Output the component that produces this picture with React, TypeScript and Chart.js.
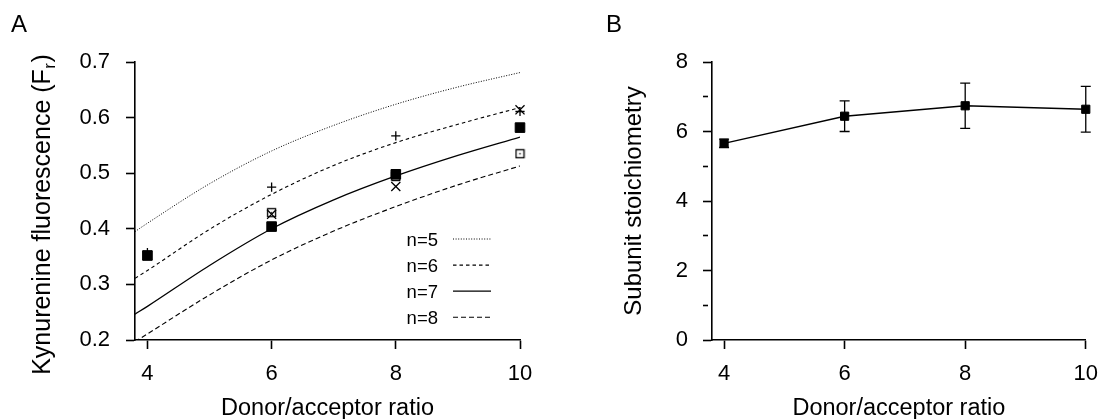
import React, { useEffect, useRef } from 'react';
import { Chart, registerables } from 'chart.js';

Chart.register(...registerables);

const FONT = '"Liberation Sans", Arial, Helvetica, sans-serif';

// ---------- Panel A data ----------
const xTickValues = [4, 6, 8, 10];
const yTicksA = [0.2, 0.3, 0.4, 0.5, 0.6, 0.7];
const ratiosA = [4, 6, 8, 10];
const plusSeries = [0.357, 0.475, 0.567, 0.611];
const crossSeries = [0.352, 0.426, 0.476, 0.614];
const filledSquareSeries = [0.352, 0.404, 0.498, 0.582];
const openSquareSeries = [0.352, 0.429, 0.494, 0.535];

const curveX = [3.8, 4, 5, 6, 7, 8, 9, 10];
const curveN5 = [0.395, 0.41, 0.481, 0.54, 0.586, 0.624, 0.655, 0.681];
const curveN6 = [0.311, 0.325, 0.399, 0.462, 0.514, 0.555, 0.588, 0.618];
const curveN7 = [0.2465, 0.2605, 0.334, 0.4, 0.452, 0.495, 0.532, 0.565];
const curveN8 = [0.197, 0.211, 0.281, 0.344, 0.396, 0.44, 0.479, 0.513];
const curveLabels = ['n=5', 'n=6', 'n=7', 'n=8'];

const xTitle = 'Donor/acceptor ratio';
const yTitleAMain = 'Kynurenine fluorescence (F';
const yTitleASub = 'r';
const yTitleAClose = ')';

// ---------- Panel B data ----------
const ratiosB = [4, 6, 8, 10];
const stoichValues = [5.66, 6.44, 6.74, 6.64];
const stoichErrors = [0.12, 0.44, 0.65, 0.66];
const yTicksB = [0, 1, 2, 3, 4, 5, 6, 7, 8];
const yTitleB = 'Subunit stoichiometry';

const panelLabels = ['A', 'B'];

const toPoints = (xs: number[], ys: number[]) => xs.map((x, i) => ({ x, y: ys[i] }));

function makeOpenSquare(): HTMLCanvasElement {
  const c = document.createElement('canvas');
  c.width = 11;
  c.height = 11;
  const g = c.getContext('2d')!;
  g.fillStyle = '#fff';
  g.fillRect(1, 1, 9, 9);
  g.strokeStyle = '#000';
  g.lineWidth = 1.3;
  g.strokeRect(1.5, 1.5, 8, 8);
  g.fillStyle = '#000';
  g.fillRect(4.8, 4.8, 1.4, 1.4);
  return c;
}

function xScaleOptions() {
  return {
    type: 'linear' as const,
    min: 3.8,
    max: 10,
    afterBuildTicks: (s: any) => {
      s.ticks = xTickValues.map((v) => ({ value: v }));
    },
    afterFit: (s: any) => {
      s.height = 79;
    },
    grid: { drawOnChartArea: false, tickLength: 9, tickColor: '#000', tickWidth: 1.6 },
    border: { color: '#000', width: 1.6 },
    ticks: {
      color: '#000',
      font: { family: FONT, size: 22 },
      padding: 12,
      maxRotation: 0,
      autoSkip: false,
    },
    title: {
      display: true,
      text: xTitle,
      color: '#000',
      font: { family: FONT, size: 23.5, lineHeight: 0.85 },
      padding: { top: 0, bottom: 0 },
    },
  };
}

export default function App() {
  const refA = useRef<HTMLCanvasElement>(null);
  const refB = useRef<HTMLCanvasElement>(null);

  useEffect(() => {
    const openSquare = makeOpenSquare();

    const curveStyles = [
      { dash: [1, 1.6], width: 1 },
      { dash: [3.5, 3], width: 1.1 },
      { dash: [], width: 1.3 },
      { dash: [5, 3], width: 1.1 },
    ];
    const curves = [curveN5, curveN6, curveN7, curveN8];

    const markerDatasets: any[] = [
      {
        label: 'filled squares',
        data: toPoints(ratiosA, filledSquareSeries),
        showLine: false,
        pointStyle: 'rect',
        pointRadius: 6.8,
        pointBackgroundColor: '#000',
        pointBorderColor: '#000',
        pointBorderWidth: 1,
        clip: false,
      },
      {
        label: 'crosses',
        data: toPoints(ratiosA, crossSeries),
        showLine: false,
        pointStyle: 'crossRot',
        pointRadius: 6.4,
        pointBorderColor: '#000',
        pointBorderWidth: 1.3,
        clip: false,
      },
      {
        label: 'plus',
        data: toPoints(ratiosA, plusSeries),
        showLine: false,
        pointStyle: 'cross',
        pointRadius: 4.6,
        pointBorderColor: '#000',
        pointBorderWidth: 1.3,
        clip: false,
      },
      {
        label: 'open squares',
        data: toPoints(ratiosA, openSquareSeries),
        showLine: false,
        pointStyle: openSquare,
        pointRadius: 5,
        clip: false,
      },
    ];

    const curveDatasets: any[] = curves.map((c, i) => ({
      label: curveLabels[i],
      isCurve: true,
      data: toPoints(curveX, c),
      borderColor: '#000',
      borderWidth: curveStyles[i].width,
      borderDash: curveStyles[i].dash,
      pointRadius: 0,
      cubicInterpolationMode: 'monotone',
      fill: false,
    }));

    const legendPlugin = {
      id: 'curveLegend',
      afterDatasetsDraw(chart: any) {
        const ctx = chart.ctx;
        const ds = chart.data.datasets.filter((d: any) => d.isCurve);
        ctx.save();
        ds.forEach((d: any, i: number) => {
          const y = 240.5 + i * 26.1;
          ctx.fillStyle = '#000';
          ctx.font = `18.5px ${FONT}`;
          ctx.textAlign = 'right';
          ctx.textBaseline = 'middle';
          ctx.fillText(d.label, 438, y);
          ctx.beginPath();
          ctx.setLineDash(d.borderDash || []);
          ctx.lineWidth = d.borderWidth;
          ctx.strokeStyle = '#000';
          ctx.moveTo(453, y - 1.5);
          ctx.lineTo(491, y - 1.5);
          ctx.stroke();
        });
        ctx.restore();
      },
    };

    const yTitlePlugin = {
      id: 'yTitleA',
      afterDraw(chart: any) {
        const ctx = chart.ctx;
        ctx.save();
        ctx.fillStyle = '#000';
        const big = `25px ${FONT}`;
        const small = `17px ${FONT}`;
        ctx.font = big;
        const w1 = ctx.measureText(yTitleAMain).width;
        const w3 = ctx.measureText(yTitleAClose).width;
        ctx.font = small;
        const w2 = ctx.measureText(yTitleASub).width;
        const total = w1 + w2 + w3;
        ctx.translate(50, 215);
        ctx.rotate(-Math.PI / 2);
        ctx.textAlign = 'left';
        ctx.textBaseline = 'alphabetic';
        const start = -total / 2;
        ctx.font = big;
        ctx.fillText(yTitleAMain, start, 0);
        ctx.font = small;
        ctx.fillText(yTitleASub, start + w1 + 0.5, 5);
        ctx.font = big;
        ctx.fillText(yTitleAClose, start + w1 + w2 + 1, 0);
        ctx.restore();
      },
    };

    const chartA = new Chart(refA.current!, {
      type: 'line',
      data: { datasets: [...markerDatasets, ...curveDatasets] },
      options: {
        responsive: false,
        animation: false,
        events: [],
        layout: { padding: { top: 62, right: 35, left: 0, bottom: 0 } },
        plugins: { legend: { display: false }, tooltip: { enabled: false } },
        scales: {
          x: xScaleOptions() as any,
          y: {
            type: 'linear',
            min: 0.2,
            max: 0.7,
            afterBuildTicks: (s: any) => {
              s.ticks = yTicksA.map((v) => ({ value: v }));
            },
            afterFit: (s: any) => {
              s.width = 135;
            },
            grid: { drawOnChartArea: false, tickLength: 9, tickColor: '#000', tickWidth: 1.6 },
            border: { color: '#000', width: 1.6 },
            ticks: {
              color: '#000',
              font: { family: FONT, size: 22 },
              padding: 16,
              callback: (v: any) => Number(v).toFixed(1),
            },
          } as any,
        },
      },
      plugins: [legendPlugin, yTitlePlugin],
    });

    const errorBarPlugin = {
      id: 'errorBars',
      beforeDatasetsDraw(chart: any) {
        const ctx = chart.ctx;
        const xs = chart.scales.x;
        const ys = chart.scales.y;
        ctx.save();
        ctx.strokeStyle = '#000';
        ctx.lineWidth = 1.3;
        chart.data.datasets.forEach((d: any) => {
          if (!d.errorBars) return;
          d.data.forEach((p: any, i: number) => {
            const e = d.errorBars[i];
            const px = xs.getPixelForValue(p.x);
            const yt = ys.getPixelForValue(p.y + e);
            const yb = ys.getPixelForValue(p.y - e);
            ctx.beginPath();
            ctx.moveTo(px, yt);
            ctx.lineTo(px, yb);
            ctx.moveTo(px - 5, yt);
            ctx.lineTo(px + 5, yt);
            ctx.moveTo(px - 5, yb);
            ctx.lineTo(px + 5, yb);
            ctx.stroke();
          });
        });
        ctx.restore();
      },
    };

    const chartB = new Chart(refB.current!, {
      type: 'line',
      data: {
        datasets: [
          {
            label: yTitleB,
            data: toPoints(ratiosB, stoichValues),
            errorBars: stoichErrors,
            borderColor: '#000',
            borderWidth: 1.4,
            pointStyle: 'rect',
            pointRadius: 5.8,
            pointBackgroundColor: '#000',
            pointBorderColor: '#000',
            pointBorderWidth: 1,
            tension: 0,
            clip: false,
          } as any,
        ],
      },
      options: {
        responsive: false,
        animation: false,
        events: [],
        layout: { padding: { top: 62, right: 16, left: 0, bottom: 0 } },
        plugins: { legend: { display: false }, tooltip: { enabled: false } },
        scales: {
          x: xScaleOptions() as any,
          y: {
            type: 'linear',
            min: 0,
            max: 8,
            afterBuildTicks: (s: any) => {
              s.ticks = yTicksB.map((v) => ({ value: v }));
            },
            afterFit: (s: any) => {
              s.width = 157;
            },
            grid: {
              drawOnChartArea: false,
              tickLength: 9,
              tickColor: '#000',
              tickWidth: 1.6,
              tickBorderDash: (c: any) => (c.tick && c.tick.value % 2 ? [5, 100] : []),
            },
            border: { color: '#000', width: 1.6 },
            ticks: {
              color: '#000',
              font: { family: FONT, size: 22 },
              padding: 15,
              callback: (v: any) => (Number(v) % 2 === 0 ? String(v) : ''),
            },
            title: {
              display: true,
              text: yTitleB,
              color: '#000',
              font: { family: FONT, size: 24, lineHeight: 1 },
              padding: { top: 67, bottom: 0 },
            },
          } as any,
        },
      },
      plugins: [errorBarPlugin],
    });

    return () => {
      chartA.destroy();
      chartB.destroy();
    };
  }, []);

  const labelStyle = (left: number): React.CSSProperties => ({
    position: 'absolute',
    left,
    top: 12,
    fontFamily: FONT,
    fontSize: 24,
    lineHeight: '24px',
    color: '#000',
  });

  return (
    <div style={{ position: 'absolute', left: 0, top: 0, width: 1110, height: 419, background: '#fff', overflow: 'hidden' }}>
      <canvas ref={refA} width={555} height={419} style={{ position: 'absolute', left: 0, top: 0 }} />
      <canvas ref={refB} width={555} height={419} style={{ position: 'absolute', left: 555, top: 0 }} />
      <div style={labelStyle(11)}>{panelLabels[0]}</div>
      <div style={labelStyle(606)}>{panelLabels[1]}</div>
    </div>
  );
}
